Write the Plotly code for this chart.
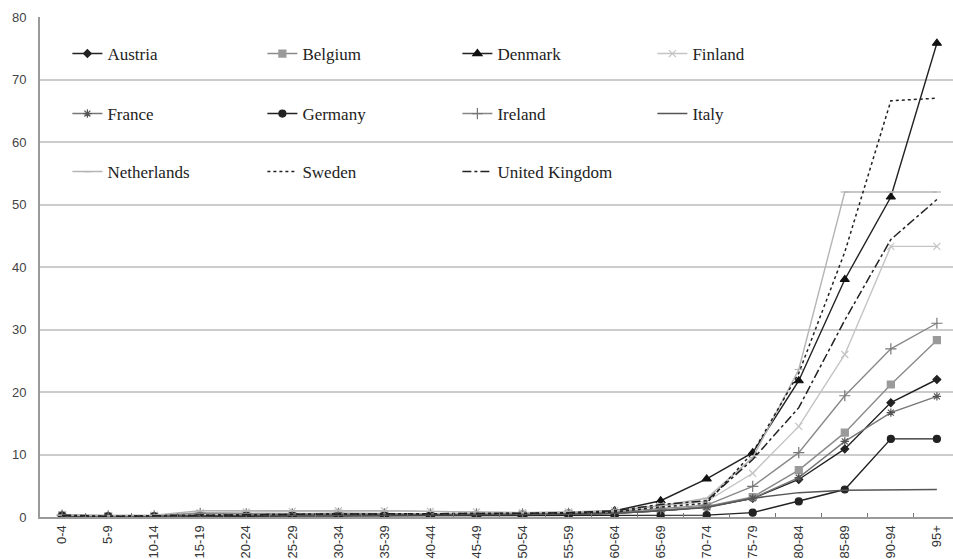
import plotly.graph_objects as go

ages = ["0-4", "5-9", "10-14", "15-19", "20-24", "25-29", "30-34", "35-39", "40-44", "45-49",
        "50-54", "55-59", "60-64", "65-69", "70-74", "75-79", "80-84", "85-89", "90-94", "95+"]

austria = [0.3, 0.1, 0.1, 0.2, 0.3, 0.3, 0.3, 0.3, 0.3, 0.3, 0.3, 0.4, 0.6, 1.0, 1.6, 3.0, 6.0, 10.9, 18.3, 22.0]
belgium = [0.3, 0.1, 0.1, 0.2, 0.3, 0.3, 0.3, 0.3, 0.3, 0.3, 0.4, 0.5, 0.6, 1.1, 1.7, 3.2, 7.5, 13.5, 21.2, 28.3]
denmark = [0.2, 0.1, 0.1, 0.1, 0.2, 0.2, 0.2, 0.2, 0.2, 0.3, 0.4, 0.6, 1.0, 2.6, 6.1, 10.3, 21.8, 38.0, 51.2, 75.8]
finland = [0.4, 0.2, 0.3, 0.7, 0.8, 0.9, 1.0, 1.0, 0.9, 0.8, 0.7, 0.8, 1.0, 1.8, 2.5, 7.0, 14.5, 26.0, 43.3, 43.3]
france = [0.2, 0.1, 0.1, 0.2, 0.3, 0.3, 0.3, 0.3, 0.3, 0.3, 0.3, 0.4, 0.6, 1.0, 1.6, 3.0, 6.3, 12.1, 16.7, 19.3]
germany = [0.2, 0.1, 0.1, 0.1, 0.2, 0.2, 0.2, 0.2, 0.2, 0.2, 0.2, 0.2, 0.2, 0.2, 0.3, 0.7, 2.5, 4.4, 12.5, 12.5]
ireland = [0.3, 0.2, 0.2, 0.6, 0.5, 0.5, 0.6, 0.5, 0.5, 0.5, 0.5, 0.6, 0.8, 1.3, 1.9, 4.9, 10.3, 19.4, 26.9, 31.0]
italy = [0.2, 0.1, 0.1, 0.2, 0.3, 0.3, 0.3, 0.3, 0.3, 0.3, 0.4, 0.5, 0.6, 1.0, 1.5, 3.0, 3.9, 4.3, 4.4, 4.4]
netherlands = [0.3, 0.2, 0.3, 1.0, 1.0, 1.0, 1.1, 1.0, 0.9, 0.8, 0.7, 0.8, 1.0, 1.8, 3.0, 9.5, 23.6, 52.0, 52.0, 52.0]
sweden = [0.2, 0.1, 0.2, 0.3, 0.4, 0.4, 0.5, 0.5, 0.5, 0.5, 0.5, 0.6, 0.8, 1.6, 2.2, 10.3, 23.0, 42.4, 66.6, 67.0]
uk = [0.3, 0.1, 0.2, 0.3, 0.4, 0.4, 0.5, 0.5, 0.5, 0.5, 0.6, 0.7, 1.0, 2.0, 2.6, 9.2, 17.5, 31.5, 44.4, 50.8]

y_ticks = [0, 10, 20, 30, 40, 50, 60, 70, 80]

series = [
    # name, values, line color, dash, marker symbol, marker size, marker color, legend row
    ("Austria", austria, "#222222", "solid", "diamond", 6, "#222222", "legend"),
    ("Belgium", belgium, "#8a8a8a", "solid", "square", 7, "#9a9a9a", "legend"),
    ("Denmark", denmark, "#222222", "solid", "triangle-up", 8, "#111111", "legend"),
    ("Finland", finland, "#c4c4c4", "solid", "x-thin-open", 7, "#c4c4c4", "legend"),
    ("France", france, "#777777", "solid", "asterisk-open", 7, "#555555", "legend2"),
    ("Germany", germany, "#222222", "solid", "circle", 7, "#222222", "legend2"),
    ("Ireland", ireland, "#888888", "solid", "cross-thin-open", 8, "#777777", "legend2"),
    ("Italy", italy, "#555555", "solid", None, 0, "#555555", "legend2"),
    ("Netherlands", netherlands, "#b4b4b4", "solid", "line-ew-open", 6, "#b4b4b4", "legend3"),
    ("Sweden", sweden, "#222222", "dot", None, 0, "#222222", "legend3"),
    ("United Kingdom", uk, "#222222", "dashdot", None, 0, "#222222", "legend3"),
]

fig = go.Figure()
for name, vals, lc, dash, sym, ms, mc, leg in series:
    if sym:
        fig.add_trace(go.Scatter(
            x=ages, y=vals, name=name, mode="lines+markers", legend=leg,
            line=dict(color=lc, width=1.4, dash=dash),
            marker=dict(symbol=sym, size=ms, color=mc, line=dict(color=mc, width=1.2)),
        ))
    else:
        fig.add_trace(go.Scatter(
            x=ages, y=vals, name=name, mode="lines", legend=leg,
            line=dict(color=lc, width=1.5, dash=dash),
        ))

legend_font = dict(family="Liberation Serif", size=17, color="#222222")
leg_common = dict(orientation="h", xanchor="left", yanchor="middle", x=0.030,
                  entrywidth=150, entrywidthmode="pixels", bgcolor="rgba(0,0,0,0)",
                  font=legend_font, itemclick=False, itemdoubleclick=False)

fig.update_layout(
    width=953, height=559,
    margin=dict(l=40, r=0, t=17, b=42, autoexpand=False),
    paper_bgcolor="white", plot_bgcolor="white",
    showlegend=True,
    legend=dict(**leg_common, y=0.926),
    legend2=dict(**leg_common, y=0.806),
    legend3=dict(**leg_common, y=0.690),
    xaxis=dict(
        type="category", categoryorder="array", categoryarray=ages,
        range=[-0.48, 19.35], showgrid=False, zeroline=False,
        showline=True, linecolor="#9a9a9a", linewidth=2,
        ticks="inside", tickson="boundaries", ticklen=4, tickcolor="#777777",
        tickangle=-90, ticklabelstandoff=1, automargin=False,
        tickfont=dict(family="Liberation Sans", size=13, color="#333333"),
    ),
    yaxis=dict(
        range=[0, 80], tickvals=y_ticks, showgrid=True, gridcolor="#cccccc", gridwidth=2,
        zeroline=False, showline=True, linecolor="#9a9a9a", linewidth=2,
        ticks="", ticklabelstandoff=9, automargin=False,
        tickfont=dict(family="Liberation Sans", size=13, color="#444444"),
    ),
    shapes=[dict(type="rect", xref="paper", yref="y", x0=0.006, x1=0.865, y0=51.5, y1=79.4,
                 fillcolor="white", line=dict(width=0), layer="between")],
)

fig.write_html("out.html", config={"displayModeBar": False},
               post_script="document.body.style.margin='0';document.body.style.overflow='hidden';")
